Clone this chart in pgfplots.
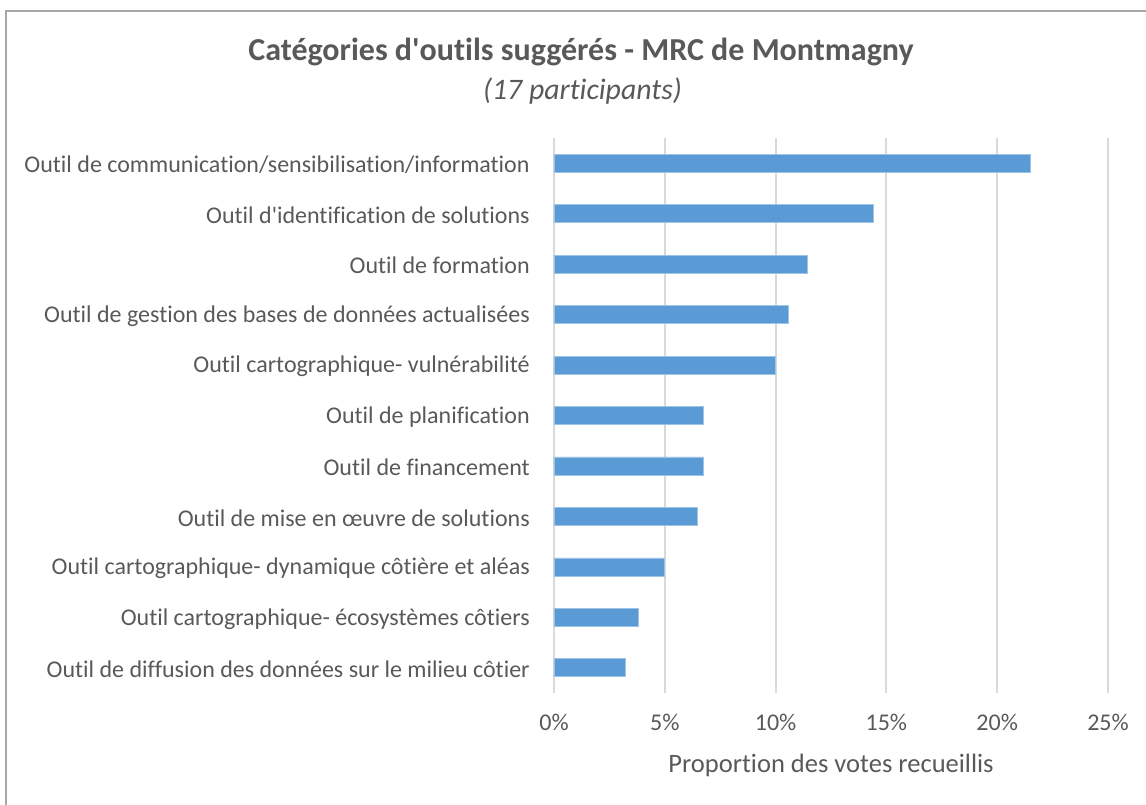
\documentclass[border=0pt]{standalone}
\usepackage{pgfplots}
\pgfplotsset{compat=1.18}
\usepackage{fontspec}
\setmainfont{Carlito}[Ligatures=NoCommon]
\definecolor{barblue}{HTML}{5B9BD5}
\definecolor{txt}{HTML}{595959}
\definecolor{gridc}{HTML}{D9D9D9}
\definecolor{framec}{HTML}{A6A6A6}
\begin{document}
\begin{tikzpicture}[x=0.75pt,y=0.75pt]
\useasboundingbox (0,0) rectangle (1146,805);
\draw[framec, line width=1.2pt] (6,-20) |- (1180,794);
\node[txt, font=\fontsize{24}{28}\selectfont\bfseries] at (581,753) {Catégories d\textquotesingle outils suggérés - MRC de Montmagny};
\node[txt, font=\fontsize{22.3}{26}\selectfont\itshape] at (582.5,714) {(17 participants)};
\node[txt, font=\fontsize{19.9}{23}\selectfont] at (831,40) {Proportion des votes recueillis};
\begin{axis}[
  at={(415.5pt,84pt)}, anchor=south west,
  scale only axis, width=415.5pt, height=416.25pt,
  xbar, bar width=13.5pt,
  xmin=0, xmax=25, ymin=-0.5, ymax=10.5,
  axis line style={draw=none},
  major tick length=0pt,
  xtick={0,5,10,15,20,25},
  xticklabels={0\%,5\%,10\%,15\%,20\%,25\%},
  xmajorgrids, grid style={gridc, line width=1.5pt},
  ytick={0,...,10},
  yticklabels={
    Outil de diffusion des données sur le milieu côtier,
    Outil cartographique- écosystèmes côtiers,
    Outil cartographique- dynamique côtière et aléas,
    Outil de mise en œuvre de solutions,
    Outil de financement,
    Outil de planification,
    Outil cartographique- vulnérabilité,
    Outil de gestion des bases de données actualisées,
    Outil de formation,
    Outil d\textquotesingle identification de solutions,
    Outil de communication/sensibilisation/information},
  yticklabel style={txt, font=\fontsize{18}{21}\selectfont, inner sep=0pt, xshift=-18pt, yshift=-1.2pt},
  xticklabel style={txt, font=\fontsize{18}{21}\selectfont, inner sep=0pt, yshift=-15.5pt},
  /pgf/number format/assume math mode=true,
]
\addplot[fill=barblue, draw=barblue!60!white, line width=0.5pt] coordinates {
  (3.22,0) (3.80,1) (4.98,2) (6.45,3) (6.75,4) (6.75,5)
  (9.97,6) (10.56,7) (11.44,8) (14.40,9) (21.48,10)
};
\end{axis}
\end{tikzpicture}
\end{document}
